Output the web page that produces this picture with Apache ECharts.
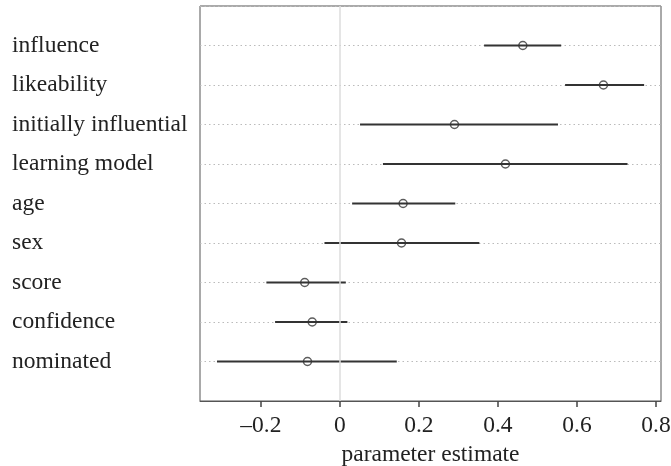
<!DOCTYPE html>
<html><head><meta charset="utf-8">
<script src="https://cdn.jsdelivr.net/npm/echarts@6/dist/echarts.min.js"></script>
<style>html,body{margin:0;padding:0;background:#fff}#c{width:671px;height:466px}</style>
</head><body><div id="c"></div>
<script>
const categories = ["influence","likeability","initially influential","learning model","age","sex","score","confidence","nominated"];
const estimates = [0.463, 0.667, 0.290, 0.419, 0.160, 0.156, -0.089, -0.070, -0.082];
const lower = [0.365, 0.570, 0.051, 0.109, 0.031, -0.039, -0.186, -0.164, -0.311];
const upper = [0.560, 0.770, 0.552, 0.728, 0.292, 0.353, 0.015, 0.019, 0.144];
const xTicks = [-0.2, 0, 0.2, 0.4, 0.6, 0.8];

const font = "'Liberation Serif', 'DejaVu Serif', serif";
const rows = categories.map((c, i) => i + 1);
const chart = echarts.init(document.getElementById('c'));
chart.setOption({
  animation: false,
  grid: {left: 200, top: 6, right: 10, bottom: 65, show: true, borderColor: '#555', borderWidth: 1, backgroundColor: 'transparent', containLabel: false, outerBoundsMode: 'none'},
  xAxis: {
    type: 'value', min: -0.354, max: 0.8127, position: 'bottom',
    axisLine: {show: true, onZero: false, lineStyle: {color: '#555', width: 1}},
    splitLine: {show: false},
    axisTick: {show: true, length: 6, inside: false, lineStyle: {color: '#444', width: 1.5}, customValues: xTicks},
    axisLabel: {customValues: xTicks, fontFamily: font, fontSize: 23.5, color: '#222', margin: 13,
      formatter: v => (v < 0 ? '\u2013' : '') + (Math.abs(v) < 1e-9 ? '0' : Math.abs(v).toFixed(1))},
    name: 'parameter estimate', nameLocation: 'middle', nameGap: 36,
    nameTextStyle: {fontFamily: font, fontSize: 23.5, color: '#222'}
  },
  yAxis: {
    type: 'value', min: 0, max: 10, interval: 1, inverse: true,
    axisLine: {show: false, onZero: false}, axisTick: {show: false},
    splitLine: {show: true, lineStyle: {color: '#bbb', type: [1.5, 3], width: 1}},
    axisLabel: {align: 'left', margin: 188, fontFamily: font, fontSize: 23.5, color: '#222',
      formatter: v => (v >= 1 && v <= 9) ? categories[v - 1] : ''}
  },
  series: [
    {
      type: 'custom',
      data: rows.map((r, i) => [lower[i], upper[i], r]),
      renderItem: (params, api) => {
        const a = api.coord([api.value(0), api.value(2)]);
        const b = api.coord([api.value(1), api.value(2)]);
        return {type: 'line', shape: {x1: a[0], y1: a[1], x2: b[0], y2: b[1]}, style: {stroke: '#333', lineWidth: 2}};
      },
      encode: {x: [0, 1], y: 2},
      markLine: {silent: true, symbol: 'none', label: {show: false},
        lineStyle: {color: '#ddd', type: 'solid', width: 1.5}, data: [{xAxis: 0}]}
    },
    {
      type: 'scatter',
      data: rows.map((r, i) => [estimates[i], r]),
      symbol: 'circle', symbolSize: 8,
      itemStyle: {color: 'rgba(255,255,255,0)', borderColor: '#333', borderWidth: 1.5},
      z: 5
    }
  ]
});
</script></body></html>
